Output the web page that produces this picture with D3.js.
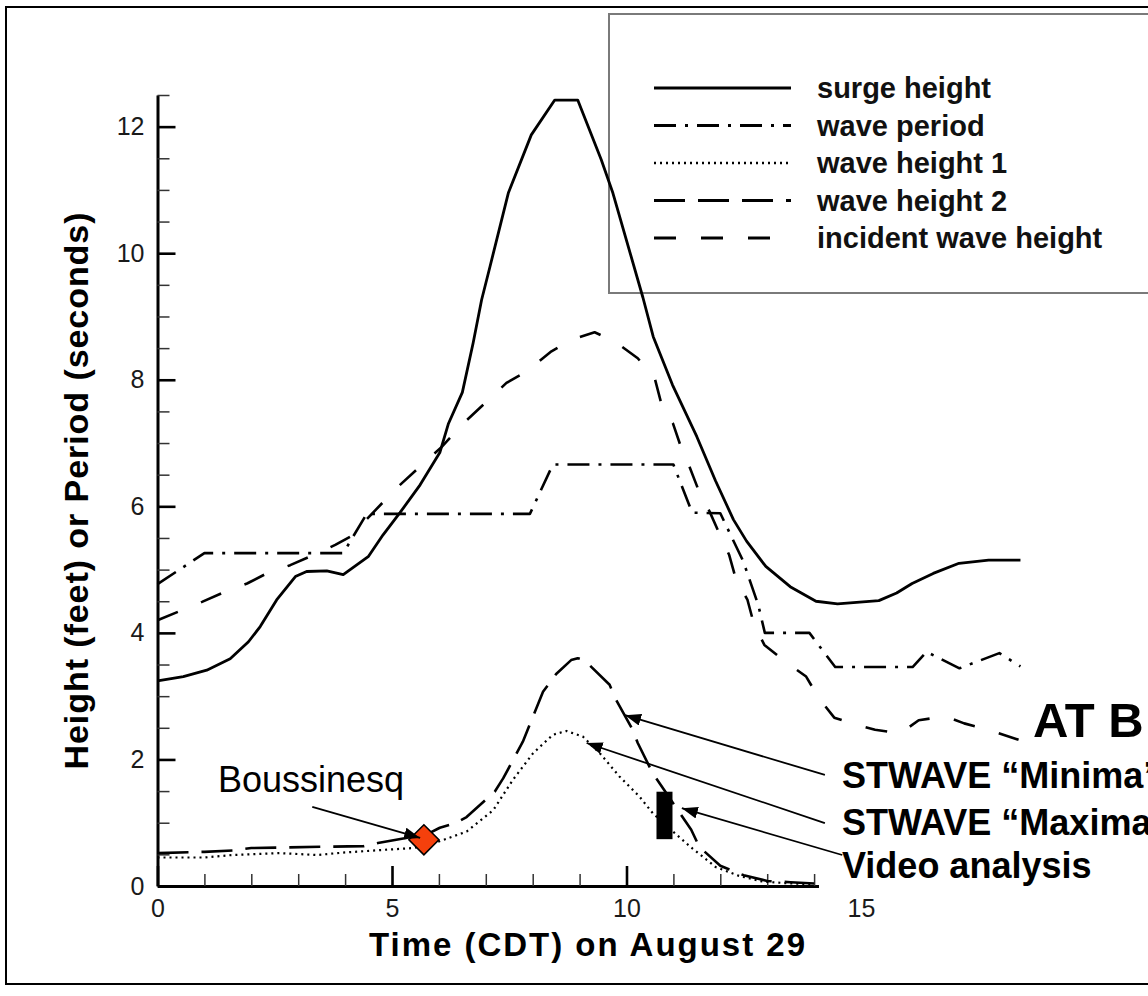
<!DOCTYPE html>
<html>
<head>
<meta charset="utf-8">
<script src="https://cdn.jsdelivr.net/npm/d3@7"></script>
<style>
  html, body { margin: 0; padding: 0; background: #fff; overflow: hidden; }
  svg { display: block; font-family: "Liberation Sans", Arial, Helvetica, sans-serif; }
</style>
</head>
<body>
<svg id="chart" width="1148" height="996"></svg>
<script>
// ---- data: [time in hours CDT on August 29, value] ----
const surgeHeight = [
  [0,3.24],[0.55,3.31],[1.05,3.41],[1.55,3.59],[1.94,3.86],[2.19,4.10],[2.54,4.52],[2.94,4.89],
  [3.18,4.97],[3.61,4.98],[3.96,4.92],[4.5,5.21],[4.81,5.55],[5.17,5.9],[5.6,6.34],[6.02,6.85],
  [6.2,7.3],[6.5,7.8],[6.73,8.58],[6.91,9.26],[7.09,9.79],[7.48,10.95],[7.97,11.87],[8.47,12.42],
  [8.96,12.42],[9.46,11.48],[9.71,10.95],[10.35,9.3],[10.57,8.68],[10.98,7.92],[11.5,7.1],
  [11.9,6.4],[12.28,5.79],[12.56,5.45],[12.97,5.05],[13.49,4.73],[14.04,4.5],[14.5,4.46],
  [15.38,4.51],[15.76,4.63],[16.09,4.78],[16.54,4.94],[17.09,5.1],[17.72,5.15],[18.4,5.15]
];
const wavePeriod = [
  [0,4.77],[1.0,5.26],[3.96,5.26],[4.46,5.88],[7.94,5.88],[8.43,6.66],[11.0,6.66],[11.4,5.9],
  [12.0,5.89],[12.49,5.13],[12.81,4.44],[12.95,4.0],[13.9,4.0],[14.45,3.46],[16.1,3.46],
  [16.4,3.7],[17.1,3.44],[17.95,3.68],[18.4,3.47]
];
const waveHeight1 = [
  [0,0.45],[1.0,0.45],[1.6,0.49],[2.6,0.52],[3.4,0.49],[4.0,0.53],[4.8,0.57],[5.45,0.6],
  [5.95,0.69],[6.59,0.86],[7.16,1.2],[7.58,1.68],[8.01,2.1],[8.43,2.39],[8.72,2.45],[9.07,2.36],
  [9.43,2.1],[9.85,1.73],[10.28,1.41],[10.56,1.15],[10.99,0.86],[11.41,0.59],[11.9,0.3],
  [12.4,0.16],[12.9,0.07],[13.5,0.04],[14.0,0.03]
];
const waveHeight2 = [
  [0,0.52],[1.0,0.54],[1.6,0.56],[2.0,0.6],[2.8,0.61],[3.5,0.62],[4.4,0.63],[4.7,0.68],
  [5.3,0.76],[5.7,0.8],[6.02,0.92],[6.34,0.99],[6.59,1.09],[7.19,1.49],[7.37,1.7],[7.79,2.28],
  [8.22,3.07],[8.5,3.35],[8.82,3.57],[8.96,3.6],[9.1,3.57],[9.64,3.18],[9.78,2.94],[10.13,2.47],
  [10.24,2.26],[10.56,1.78],[10.8,1.52],[11.38,0.89],[11.55,0.62],[12.0,0.32],[12.5,0.17],
  [13.0,0.08],[13.5,0.06],[14.0,0.04]
];
const incidentWaveHeight = [
  [0,4.2],[0.95,4.49],[1.41,4.64],[1.91,4.78],[2.33,4.94],[2.83,5.07],[3.26,5.21],[3.79,5.39],
  [4.18,5.55],[4.35,5.71],[5.1,6.29],[5.6,6.63],[6.06,6.94],[6.52,7.31],[6.94,7.6],[7.44,7.95],
  [7.87,8.13],[8.4,8.45],[8.82,8.63],[9.32,8.75],[9.74,8.61],[10.24,8.34],[10.6,8.03],[10.74,7.63],
  [10.99,7.31],[11.16,6.94],[11.34,6.63],[11.55,6.23],[11.77,5.92],[11.98,5.57],[12.19,5.23],
  [12.33,4.86],[12.58,4.52],[12.72,4.13],[12.94,3.81],[13.4,3.54],[13.83,3.31],[14.1,2.97],
  [14.43,2.66],[14.9,2.55],[15.3,2.47],[15.84,2.41],[16.23,2.62],[16.8,2.68],[17.2,2.57],
  [17.7,2.47],[18.36,2.31]
];
const boussinesqPoint = [5.68, 0.73];          // time, wave height
const videoAnalysisRange = [10.81, 0.74, 1.49]; // time, low, high
const xTickValues = [0, 5, 10, 15];
const yTickValues = [0, 2, 4, 6, 8, 10, 12];
const legendLabels = ["surge height", "wave period", "wave height 1", "wave height 2", "incident wave height"];

// ---- layout ----
const svg = d3.select("#chart");
const x = d3.scaleLinear().domain([0, 15]).range([157.5, 861]);
const y = d3.scaleLinear().domain([0, 12.5]).range([886, 95]);

const seriesList = [
  { data: surgeHeight,        width: 2.8, dash: null },
  { data: wavePeriod,         width: 2.6, dash: "22,9,3,9" },
  { data: waveHeight1,        width: 2.2, dash: "2,4" },
  { data: waveHeight2,        width: 2.6, dash: "31,13" },
  { data: incidentWaveHeight, width: 2.6, dash: "22,25" }
];

// outer frame
svg.append("rect").attr("x", 6).attr("y", 7).attr("width", 1300).attr("height", 977)
  .attr("fill", "none").attr("stroke", "#000").attr("stroke-width", 2);

// legend
const legend = svg.append("g");
legend.append("rect").attr("x", 609).attr("y", 14).attr("width", 700).attr("height", 279)
  .attr("fill", "none").attr("stroke", "#7a7a7a").attr("stroke-width", 2);
legendLabels.forEach((lab, i) => {
  const cy = 88 + i * 37.5;
  const s = seriesList[i];
  legend.append("line").attr("x1", 654).attr("x2", 791).attr("y1", cy).attr("y2", cy)
    .attr("stroke", "#000").attr("stroke-width", s.width + 0.4)
    .attr("stroke-dasharray", s.dash);
  legend.append("text").attr("x", 817).attr("y", cy + 10)
    .attr("font-size", 29).attr("font-weight", "bold").attr("fill", "#111").text(lab);
});

// axes
const yAxis = svg.append("g").attr("transform", `translate(${x(0)},0)`)
  .call(d3.axisLeft(y).tickValues(yTickValues).tickSize(-18).tickPadding(13).tickSizeOuter(0).tickFormat(d3.format("d")));
const yMinor = svg.append("g").attr("transform", `translate(${x(0)},0)`)
  .call(d3.axisLeft(y).tickValues(d3.range(0.5, 12.51, 0.5).filter(v => v % 2 !== 0)).tickSize(-12).tickFormat(""));
yMinor.select(".domain").remove();

const xAxis = svg.append("g").attr("transform", `translate(0,${y(0)})`)
  .call(d3.axisBottom(x).tickValues(xTickValues).tickSize(-20).tickPadding(13).tickSizeOuter(0).tickFormat(d3.format("d")));
const xMinor = svg.append("g").attr("transform", `translate(0,${y(0)})`)
  .call(d3.axisBottom(x).tickValues(d3.range(1, 15).filter(v => v % 5 !== 0)).tickSize(-12).tickFormat(""));
xMinor.select(".domain").remove();

[yAxis, xAxis].forEach(g => {
  g.select(".domain").attr("stroke", "#000").attr("stroke-width", 3);
  g.selectAll(".tick line").attr("stroke", "#000").attr("stroke-width", 2.6);
  g.selectAll(".tick text").attr("font-size", 25).attr("fill", "#1a1a1a")
    .attr("font-family", "'Liberation Sans', Arial, sans-serif");
});
[yMinor, xMinor].forEach(g => g.selectAll(".tick line").attr("stroke", "#333").attr("stroke-width", 1.5));

// axis titles
svg.append("text").attr("x", 587).attr("y", 956).attr("text-anchor", "middle")
  .attr("font-size", 33).attr("font-weight", "bold").attr("fill", "#000")
  .attr("textLength", 436).attr("lengthAdjust", "spacing")
  .text("Time (CDT) on August 29");
svg.append("text").attr("transform", "translate(88,491) rotate(-90)").attr("text-anchor", "middle")
  .attr("font-size", 34).attr("font-weight", "bold").attr("fill", "#000")
  .attr("textLength", 557).attr("lengthAdjust", "spacing")
  .text("Height (feet) or Period (seconds)");

// series lines
const line = d3.line().x(d => x(d[0])).y(d => y(d[1]));
seriesList.forEach(s => {
  svg.append("path").datum(s.data).attr("d", line)
    .attr("fill", "none").attr("stroke", "#000").attr("stroke-width", s.width)
    .attr("stroke-linejoin", "round").attr("stroke-dasharray", s.dash);
});

// video analysis range bar
svg.append("rect")
  .attr("x", x(videoAnalysisRange[0]) - 8).attr("width", 16)
  .attr("y", y(videoAnalysisRange[2])).attr("height", y(videoAnalysisRange[1]) - y(videoAnalysisRange[2]))
  .attr("fill", "#000");

// Boussinesq point
const bx = x(boussinesqPoint[0]), by = y(boussinesqPoint[1]);
svg.append("path")
  .attr("d", `M${bx},${by - 15}L${bx + 15},${by}L${bx},${by + 15}L${bx - 15},${by}Z`)
  .attr("fill", "#f5400c").attr("stroke", "#000").attr("stroke-width", 1.6);

// annotation panel
svg.append("rect").attr("x", 819).attr("y", 750).attr("width", 400).attr("height", 143).attr("fill", "#fff");

svg.append("defs").append("marker").attr("id", "arrowhead")
  .attr("viewBox", "0 0 16 12").attr("refX", 16).attr("refY", 6)
  .attr("markerWidth", 16).attr("markerHeight", 12).attr("markerUnits", "userSpaceOnUse")
  .attr("orient", "auto")
  .append("path").attr("d", "M0,0L16,6L0,12Z").attr("fill", "#000");

const callouts = [
  { from: [3.3, 1.25],  to: [5.6, 0.76] },
  { from: [14.23, 1.755], to: [9.97, 2.70] },
  { from: [14.23, 0.995], to: [9.15, 2.26] },
  { from: [14.6, 0.49],  to: [11.18, 1.23] }
];
callouts.forEach(c => {
  svg.append("line")
    .attr("x1", x(c.from[0])).attr("y1", y(c.from[1]))
    .attr("x2", x(c.to[0])).attr("y2", y(c.to[1]))
    .attr("stroke", "#000").attr("stroke-width", 1.8).attr("marker-end", "url(#arrowhead)");
});

svg.append("text").attr("x", 218).attr("y", 792).attr("font-size", 36).attr("fill", "#000").text("Boussinesq");
const notes = svg.append("g").attr("font-weight", "bold").attr("fill", "#000");
notes.append("text").attr("x", 1033).attr("y", 737).attr("font-size", 49).text("AT B");
notes.append("text").attr("x", 842).attr("y", 788).attr("font-size", 36).text("STWAVE \u201CMinima\u201D");
notes.append("text").attr("x", 842).attr("y", 835).attr("font-size", 36).text("STWAVE \u201CMaxima\u201D");
notes.append("text").attr("x", 842).attr("y", 878).attr("font-size", 36).text("Video analysis");
</script>
</body>
</html>
